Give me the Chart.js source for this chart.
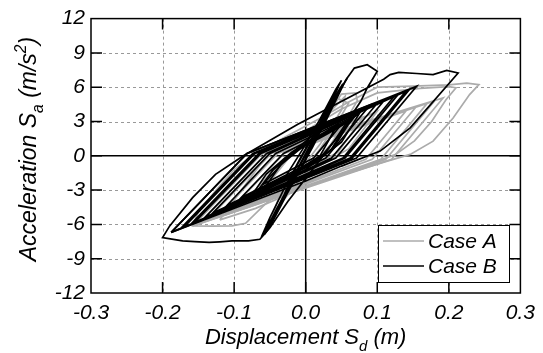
<!DOCTYPE html>
<html>
<head>
<meta charset="utf-8">
<script src="https://cdn.jsdelivr.net/npm/chart.js@4.4.1/dist/chart.umd.min.js"></script>
<style>
  html, body { margin: 0; padding: 0; background: #fff; }
  #wrap { width: 543px; height: 353px; }
</style>
</head>
<body>
<div id="wrap"><canvas id="chart" width="543" height="353"></canvas></div>
<script>
// ---- axis ticks ----
const xTickValues = [-0.3, -0.2, -0.1, 0, 0.1, 0.2, 0.3];
const yTickValues = [-12, -9, -6, -3, 0, 3, 6, 9, 12];

// ---- Case A (grey) : [displacement m, acceleration m/s2] ----
const caseASpike = [
  [0, 0], [0.02, 2.2], [0.04, 4.5], [0.05, 5.4], [0.07, 5.5], [0.072, 4.8], [0.06, 3.5],
  [0.035, 1.0], [0.0, -1.5], [-0.03, -3.8], [-0.045, -4.9], [-0.035, -3.3], [-0.01, -0.6],
  [0.02, 2.5], [0.045, 5.0], [0.06, 4.6], [0.045, 3.0], [0.02, 0.6], [-0.01, -1.8],
  [-0.035, -4.2], [-0.02, -2.0], [0.005, 0.8], [0.03, 3.6], [0.055, 5.2], [0.05, 4.0],
  [0.02, 1.0], [-0.02, -2.2]
];
const caseAOuter = [
  [-0.02, -2.2], [-0.038, -3.3], [-0.057, -4.24], [-0.084, -5.9], [-0.103, -6.13],
  [-0.13, -6.15], [-0.158, -6.13], [-0.15, -4.9], [-0.125, -3.0], [-0.1, -1.2], [-0.075, 0.0],
  [-0.03, 1.6], [0.021, 3.3], [0.06, 4.7], [0.1, 6.0], [0.15, 6.1], [0.2, 6.2], [0.225, 6.35],
  [0.242, 6.22], [0.229, 5.35], [0.206, 3.3], [0.178, 1.28], [0.146, 0.12], [0.114, -0.46],
  [0.05, -1.7], [-0.011, -2.93], [-0.08, -4.5], [-0.158, -6.13]
];
const caseACycles = [
  [-0.158, -6.13], [-0.061, 0.2], [0.192, 5.06], [0.12, -0.3], [-0.14, -5.76], [-0.048, 0.2],
  [0.17, 4.61], [0.105, -0.3], [-0.125, -5.4], [-0.039, 0.2], [0.18, 4.8], [0.112, -0.3],
  [-0.15, -5.96], [-0.055, 0.2], [0.155, 4.34], [0.093, -0.3], [-0.11, -5.01], [-0.03, 0.2],
  [0.14, 3.92], [0.084, -0.3], [-0.158, -6.13]
];
const caseASecond = [
  [-0.158, -6.13], [-0.065, 0.0], [0.0, 2.2], [0.05, 4.1], [0.1, 5.5], [0.16, 5.9], [0.2, 6.05],
  [0.21, 5.95], [0.196, 4.9], [0.176, 3.0], [0.152, 1.3], [0.125, 0.1], [0.09, -0.7],
  [0.0, -2.7], [-0.07, -4.6], [-0.12, -5.6]
];
const caseACenter = [
  [-0.12, -5.6], [-0.05, 0.4], [0.02, 2.0], [0.08, 3.4], [0.045, 0.3], [0.0, -1.2],
  [-0.06, -3.4], [-0.09, -4.3], [-0.03, -0.2], [0.03, 1.9], [0.1, 3.9], [0.06, 0.6],
  [0.0, -1.6], [-0.07, -3.8], [-0.02, 0.1]
];

// ---- Case B (black) ----
const caseBSpike = [
  [0, 0], [0.02, 2.4], [0.045, 5.4], [0.058, 6.8], [0.068, 7.67], [0.086, 7.97], [0.1, 7.4],
  [0.086, 5.93], [0.077, 4.77], [0.063, 3.46], [0.04, 1.3], [0.012, -1.0], [-0.025, -4.0],
  [-0.05, -6.3], [-0.064, -7.3], [-0.08, -7.44], [-0.103, -7.44], [-0.12, -7.52],
  [-0.135, -7.58], [-0.155, -7.5], [-0.172, -7.44], [-0.2, -7.15], [-0.19, -6.13],
  [-0.158, -3.66], [-0.126, -1.62], [-0.098, -0.46], [-0.087, 0.0], [-0.011, 2.76],
  [0.109, 6.7], [0.118, 7.1], [0.13, 7.3], [0.155, 7.2], [0.178, 7.1], [0.197, 7.47],
  [0.213, 7.24], [0.146, 2.44], [0.104, 0.41], [0.05, -0.9], [0.0, -2.2], [-0.188, -6.7]
];
const caseBCycles = [
  [-0.188, -6.7], [-0.082, 0.2], [0.155, 6.07], [0.071, -0.2], [-0.17, -6.25], [-0.071, 0.2],
  [0.125, 5.3], [0.052, -0.2], [-0.155, -5.81], [-0.0625, 0.2], [0.11, 4.86], [0.042, -0.2],
  [-0.14, -5.35], [-0.0546, 0.2], [0.145, 5.79], [0.065, -0.2], [-0.175, -6.37], [-0.074, 0.2],
  [0.13, 5.42], [0.055, -0.2], [-0.16, -5.94], [-0.0655, 0.2], [0.1, 4.6], [0.036, -0.2],
  [-0.13, -5.01], [-0.05, 0.2], [0.14, 5.64], [0.062, -0.2], [-0.188, -6.7]
];
const caseBSmall = [
  [-0.188, -6.7], [-0.082, 0.2], [0.09, 4.45], [0.028, -0.2], [-0.11, -4.35], [-0.042, 0.2],
  [0.07, 3.54], [0.02, -0.2], [-0.09, -3.64], [-0.031, 0.2], [0.05, 2.76], [0.011, -0.2],
  [-0.06, -2.52], [-0.02, 0.2]
];
const caseBSpike2 = [
  [-0.02, 0.2], [0.01, 1.8], [0.035, 4.6], [0.052, 6.3], [0.045, 5.5], [0.02, 2.6],
  [-0.01, -1.0], [-0.035, -4.4], [-0.058, -6.9], [-0.05, -6.2], [-0.025, -3.2], [0.0, -0.2],
  [0.025, 2.8], [0.048, 5.9], [0.04, 5.0], [0.015, 1.9], [-0.015, -1.6], [-0.04, -4.8],
  [-0.06, -7.0], [-0.045, -5.5], [-0.018, -2.4], [0.01, 0.8], [0.03, 3.3], [0.055, 6.5],
  [0.058, 6.8]
];
const caseBSpike3 = [
  [-0.03, -2.0], [-0.005, 0.5], [0.02, 3.2], [0.042, 5.8], [0.05, 6.6], [0.04, 5.4],
  [0.015, 2.2], [-0.012, -0.8], [-0.03, -3.4], [-0.052, -6.0], [-0.062, -7.1], [-0.05, -5.4],
  [-0.028, -2.6], [-0.004, 0.2], [0.022, 3.0], [0.046, 6.1], [0.036, 4.6], [0.008, 1.0],
  [-0.02, -2.2], [-0.045, -5.4], [-0.055, -6.4]
];
const caseBCenter = [
  [-0.02, 0.2], [0.03, 1.9], [0.06, 3.0], [0.035, 0.5], [0.0, -0.9], [-0.05, -2.6],
  [-0.07, -3.3], [-0.045, -1.2], [-0.015, 0.4], [0.04, 2.4], [0.075, 3.7], [0.05, 1.2],
  [0.015, -0.5], [-0.04, -2.3], [-0.08, -3.9], [-0.055, -1.6], [-0.02, 0.3], [0.03, 2.2],
  [0.065, 3.3], [0.04, 0.8], [0.0, -1.2], [-0.06, -3.0], [-0.035, -0.8], [0.0, 1.0],
  [0.045, 2.8], [0.02, 0.0], [-0.03, -2.0]
];

const FONT = '"Liberation Sans", Arial, Helvetica, sans-serif';
const GREY = '#ababab';

const xTitle = [{ t: 'Displacement S' }, { t: 'd', sub: true }, { t: ' (m)' }];
const yTitle = [{ t: 'Acceleration S' }, { t: 'a', sub: true }, { t: ' (m/s' }, { t: '2', sup: true }, { t: ')' }];

function toPts(arr) {
  return arr.map(p => ({ x: p[0], y: p[1] }));
}

function series(label, arr, color, order) {
  return {
    label: label,
    data: toPts(arr),
    showLine: true,
    borderColor: color,
    backgroundColor: color,
    borderWidth: 1.7,
    pointRadius: 0,
    pointHoverRadius: 0,
    tension: 0,
    fill: false,
    order: order,
  };
}

function richWidth(ctx, parts, size) {
  let w = 0;
  parts.forEach(p => {
    const s = p.sub || p.sup ? size * 0.68 : size;
    ctx.font = `italic ${s}px ${FONT}`;
    w += ctx.measureText(p.t).width;
  });
  return w;
}

function drawRich(ctx, parts, size, cx, baseY) {
  let x = cx - richWidth(ctx, parts, size) / 2;
  ctx.textAlign = 'left';
  ctx.textBaseline = 'alphabetic';
  parts.forEach(p => {
    const s = p.sub || p.sup ? size * 0.68 : size;
    ctx.font = `italic ${s}px ${FONT}`;
    const dy = p.sub ? size * 0.3 : p.sup ? -size * 0.45 : 0;
    ctx.fillText(p.t, x, baseY + dy);
    x += ctx.measureText(p.t).width;
  });
}

const framePlugin = {
  id: 'frame',
  beforeDatasetsDraw(chart) {
    const { ctx, chartArea: a, scales: { x, y } } = chart;
    ctx.save();
    ctx.lineWidth = 1;
    ctx.strokeStyle = '#999';
    ctx.setLineDash([3, 3]);
    xTickValues.forEach(v => {
      if (v === 0 || v === xTickValues[0] || v === xTickValues[xTickValues.length - 1]) return;
      const px = Math.round(x.getPixelForValue(v)) + 0.5;
      ctx.beginPath(); ctx.moveTo(px, a.top); ctx.lineTo(px, a.bottom); ctx.stroke();
    });
    yTickValues.forEach(v => {
      if (v === 0 || v === yTickValues[0] || v === yTickValues[yTickValues.length - 1]) return;
      const py = Math.round(y.getPixelForValue(v)) + 0.5;
      ctx.beginPath(); ctx.moveTo(a.left, py); ctx.lineTo(a.right, py); ctx.stroke();
    });
    ctx.setLineDash([]);
    ctx.strokeStyle = '#000';
    ctx.lineWidth = 1.5;
    const x0 = x.getPixelForValue(0);
    const y0 = y.getPixelForValue(0);
    ctx.beginPath(); ctx.moveTo(x0, a.top); ctx.lineTo(x0, a.bottom); ctx.stroke();
    ctx.beginPath(); ctx.moveTo(a.left, y0); ctx.lineTo(a.right, y0); ctx.stroke();
    ctx.restore();
  },
  afterDatasetsDraw(chart) {
    const { ctx, chartArea: a, scales: { x, y } } = chart;
    const tick = 11;
    ctx.save();
    ctx.strokeStyle = '#000';
    ctx.lineWidth = 1.5;
    ctx.strokeRect(a.left, a.top, a.right - a.left, a.bottom - a.top);
    xTickValues.slice(1, -1).forEach(v => {
      const px = x.getPixelForValue(v);
      ctx.beginPath();
      ctx.moveTo(px, a.bottom); ctx.lineTo(px, a.bottom - tick);
      ctx.moveTo(px, a.top); ctx.lineTo(px, a.top + tick);
      ctx.stroke();
    });
    yTickValues.slice(1, -1).forEach(v => {
      const py = y.getPixelForValue(v);
      ctx.beginPath();
      ctx.moveTo(a.left, py); ctx.lineTo(a.left + tick, py);
      ctx.moveTo(a.right, py); ctx.lineTo(a.right - tick, py);
      ctx.stroke();
    });
    ctx.restore();
  },
  afterDraw(chart) {
    const { ctx, chartArea: a } = chart;
    ctx.save();
    ctx.fillStyle = '#000';
    // axis titles
    drawRich(ctx, xTitle, 22, (a.left + a.right) / 2, 344);
    ctx.translate(36, 149);
    ctx.rotate(-Math.PI / 2);
    drawRich(ctx, yTitle, 23, 0, 0);
    ctx.restore();

    // legend (one entry per case)
    const seen = [];
    chart.data.datasets.forEach(ds => {
      if (!seen.find(s => s.label === ds.label)) seen.push(ds);
    });
    ctx.save();
    ctx.fillStyle = '#fff';
    ctx.fillRect(378, 225, 131, 57);
    ctx.strokeStyle = '#000';
    ctx.lineWidth = 1;
    ctx.strokeRect(378.5, 225.5, 131, 57);
    seen.forEach((ds, i) => {
      const ly = 241 + i * 25;
      ctx.strokeStyle = ds.borderColor;
      ctx.lineWidth = 1.5;
      ctx.beginPath(); ctx.moveTo(383, ly); ctx.lineTo(424, ly); ctx.stroke();
      ctx.fillStyle = '#000';
      ctx.font = `italic 21px ${FONT}`;
      ctx.textAlign = 'left';
      ctx.textBaseline = 'middle';
      ctx.fillText(ds.label, 428, ly + 1);
    });
    ctx.restore();
  }
};

new Chart(document.getElementById('chart'), {
  type: 'scatter',
  data: {
    datasets: [
      series('Case A', caseASpike, GREY, 2),
      series('Case A', caseAOuter, GREY, 2),
      series('Case A', caseACycles, GREY, 2),
      series('Case A', caseASecond, GREY, 2),
      series('Case A', caseACenter, GREY, 2),
      series('Case B', caseBSpike, '#000', 1),
      series('Case B', caseBCycles, '#000', 1),
      series('Case B', caseBSmall, '#000', 1),
      series('Case B', caseBSpike2, '#000', 1),
      series('Case B', caseBSpike3, '#000', 1),
      series('Case B', caseBCenter, '#000', 1),
    ],
  },
  options: {
    responsive: false,
    animation: false,
    devicePixelRatio: 1,
    layout: { padding: { left: 0, right: 17, top: 17, bottom: 0 } },
    plugins: {
      legend: { display: false },
      tooltip: { enabled: false },
    },
    scales: {
      x: {
        type: 'linear',
        min: -0.3,
        max: 0.3,
        afterBuildTicks: s => { s.ticks = xTickValues.map(v => ({ value: v })); },
        afterFit: s => { s.height = 60; },
        grid: { display: false, drawTicks: false },
        border: { display: false },
        ticks: {
          autoSkip: false,
          maxRotation: 0,
          padding: 8,
          color: '#000',
          font: { family: FONT, size: 21, style: 'italic' },
          callback: v => Number(v).toFixed(1),
        },
      },
      y: {
        type: 'linear',
        min: -12,
        max: 12,
        afterBuildTicks: s => { s.ticks = yTickValues.map(v => ({ value: v })); },
        afterFit: s => { s.width = 91; },
        grid: { display: false, drawTicks: false },
        border: { display: false },
        ticks: {
          autoSkip: false,
          padding: 6,
          color: '#000',
          font: { family: FONT, size: 21, style: 'italic' },
          callback: v => String(v),
        },
      },
    },
  },
  plugins: [framePlugin],
});
</script>
</body>
</html>
